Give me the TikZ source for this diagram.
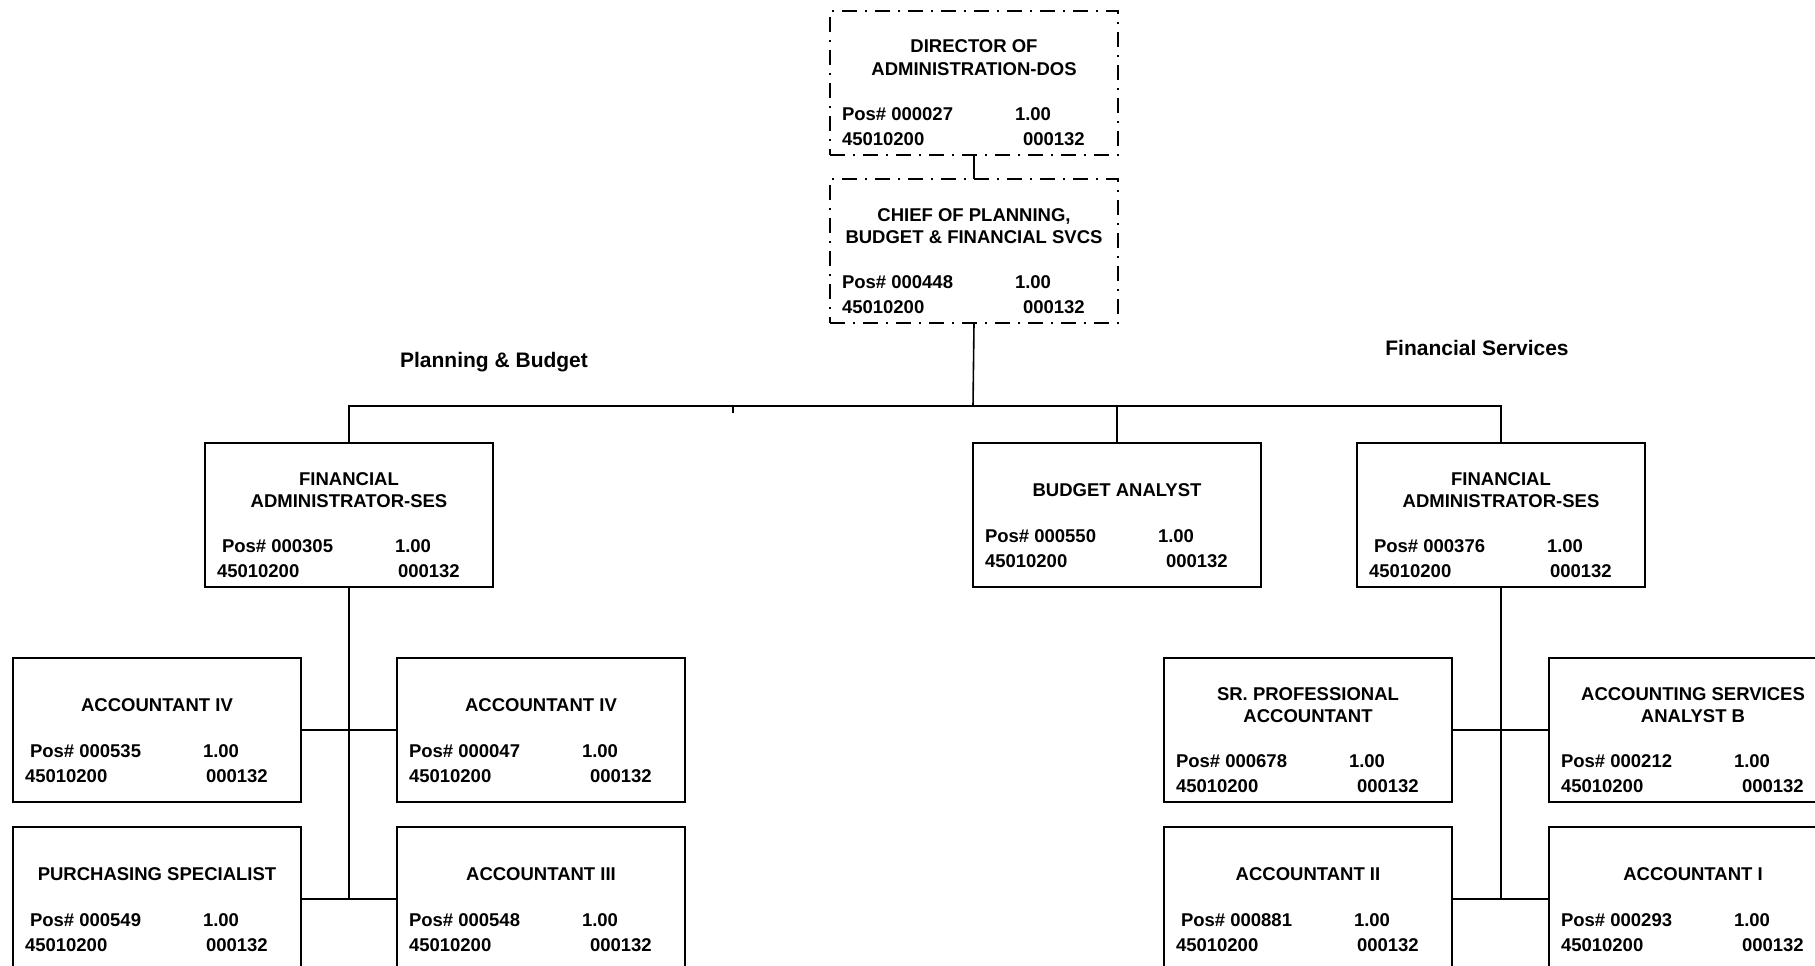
\documentclass[tikz,border=0pt]{standalone}
\usepackage{fontspec}
\setmainfont{Liberation Sans}
\begin{document}
\begin{tikzpicture}[x=1pt,y=-1pt,
  line width=1.6pt,
  posbox/.style={draw, line width=1.8pt, minimum width=288pt, minimum height=144pt, inner sep=0pt, outer sep=0pt},
  dashbox/.style={posbox, line width=1.5pt, dash pattern=on 15pt off 8pt on 2pt off 8pt},
  txt/.style={inner sep=0pt, outer sep=0pt, font=\fontsize{18.5}{22}\selectfont\bfseries},
  grouplabel/.style={inner sep=0pt, outer sep=0pt, font=\fontsize{21}{25}\selectfont\bfseries, anchor=base},
  link/.style={line width=1.6pt}]

\useasboundingbox (0,0) rectangle (1815,966);
\clip (0,0) rectangle (1815,966);

% position number, FTE, org code and class code of a position box
\newcommand{\datalines}[5]{%
  \node[txt, anchor=base west] (#1-pos) at (#2+12+#5, #3) {Pos\# #4};
  \node[txt, anchor=base west] (#1-fte) at (#2+185+#5, #3) {1.00};
  \node[txt, anchor=base west] (#1-org) at (#2+12, #3+25) {45010200};
  \node[txt, anchor=base west] (#1-cls) at (#2+193, #3+25) {000132};
}
% box with a two-line title: name, left, top, style, line 1, line 2, pos number, indent
\newcommand{\boxtwo}[8]{%
  \node[#4, anchor=north west] (#1) at (#2,#3) {};
  \node[txt, anchor=base] (#1-t1) at (#2+144, #3+42) {#5};
  \node[txt, anchor=base] (#1-t2) at (#2+144, #3+64) {#6};
  \datalines{#1}{#2}{#3+109}{#7}{#8}
}
% box with a one-line title: name, left, top, style, title, pos number, indent
\newcommand{\boxone}[7]{%
  \node[#4, anchor=north west] (#1) at (#2,#3) {};
  \node[txt, anchor=base] (#1-t1) at (#2+144, #3+53) {#5};
  \datalines{#1}{#2}{#3+99}{#6}{#7}
}

% top of the organisation
\boxtwo{dir}{830}{11}{dashbox}{DIRECTOR OF}{ADMINISTRATION-DOS}{000027}{0}
\boxtwo{chief}{830}{179}{dashbox}{CHIEF OF PLANNING,}{BUDGET \& FINANCIAL SVCS}{000448}{0}

% second level
\boxtwo{faone}{205}{443}{posbox}{FINANCIAL}{ADMINISTRATOR-SES}{000305}{5}
\boxone{ba}{973}{443}{posbox}{BUDGET ANALYST}{000550}{0}
\boxtwo{fatwo}{1357}{443}{posbox}{FINANCIAL}{ADMINISTRATOR-SES}{000376}{5}

% planning & budget staff
\boxone{acivl}{13}{658}{posbox}{ACCOUNTANT IV}{000535}{5}
\boxone{acivr}{397}{658}{posbox}{ACCOUNTANT IV}{000047}{0}
\boxone{purch}{13}{827}{posbox}{PURCHASING SPECIALIST}{000549}{5}
\boxone{aciii}{397}{827}{posbox}{ACCOUNTANT III}{000548}{0}

% financial services staff
\boxtwo{srpa}{1164}{658}{posbox}{SR. PROFESSIONAL}{ACCOUNTANT}{000678}{0}
\boxtwo{asab}{1549}{658}{posbox}{ACCOUNTING SERVICES}{ANALYST B}{000212}{0}
\boxone{acii}{1164}{827}{posbox}{ACCOUNTANT II}{000881}{5}
\boxone{aci}{1549}{827}{posbox}{ACCOUNTANT I}{000293}{0}

% section labels
\node[grouplabel] (lblpb) at (494,367) {Planning \& Budget};
\node[grouplabel] (lblfs) at (1477,355) {Financial Services};

% connectors
\coordinate (bus) at (973,406);
\coordinate (tick) at (733,413);
\coordinate (pbend) at (349,898);
\coordinate (fsend) at (1501,898);

\draw[link] (dir.south) -- (chief.north);
\draw[link] (chief.south) -- (bus);
\draw[link] (faone.north) -- (faone.north |- bus) -- (fatwo.north |- bus) -- (fatwo.north);
\draw[link] (ba.north) -- (ba.north |- bus);
\draw[link] (tick) -- (tick |- bus);

\draw[link] (faone.south) -- (pbend);
\draw[link] (acivl.east) -- (acivr.west);
\draw[link] (purch.east) -- (aciii.west);

\draw[link] (fatwo.south) -- (fsend);
\draw[link] (srpa.east) -- (asab.west);
\draw[link] (acii.east) -- (aci.west);

\end{tikzpicture}
\end{document}
